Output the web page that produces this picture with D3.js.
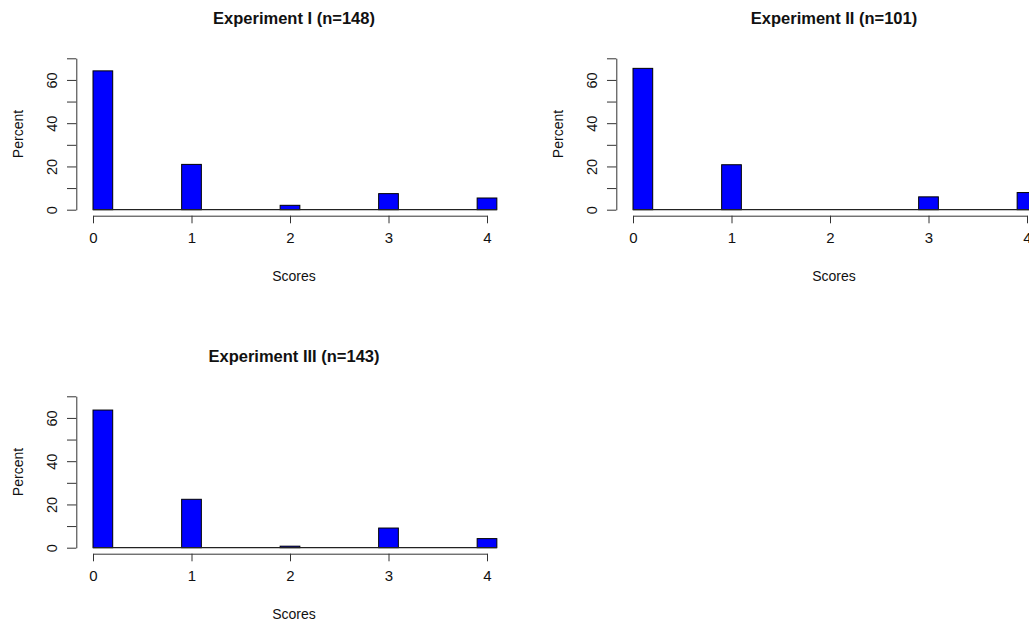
<!DOCTYPE html>
<html>
<head>
<meta charset="utf-8">
<script src="https://cdn.jsdelivr.net/npm/d3@7"></script>
<style>
  html, body { margin: 0; padding: 0; background: #fff; }
  svg { display: block; }
  text { font-family: "Liberation Sans", Arial, sans-serif; fill: #111; }
</style>
</head>
<body>
<script>
// Score categories and percentage of subjects per score in each experiment
const scores = [0, 1, 2, 3, 4];
const titles = ["Experiment I (n=148)", "Experiment II (n=101)", "Experiment III (n=143)"];
const percentI = [64.19, 20.95, 2.03, 7.43, 5.41];
const percentII = [65.35, 20.79, 0, 5.94, 7.92];
const percentIII = [63.64, 22.38, 0.70, 9.09, 4.20];
const yTicks = [0, 10, 20, 30, 40, 50, 60, 70];
const yTickLabels = [0, 20, 40, 60];

const W = 1029, H = 622;
const svg = d3.select("body").append("svg").attr("width", W).attr("height", H);

// panel origins (top-left translation of each small multiple)
const panels = [
  { title: titles[0], values: percentI, dx: 0, dy: 0 },
  { title: titles[1], values: percentII, dx: 540, dy: 0 },
  { title: titles[2], values: percentIII, dx: 0, dy: 338 }
];

const barHalf = 0.1;

panels.forEach(p => {
  const g = svg.append("g").attr("transform", `translate(${p.dx},${p.dy})`);
  const x = d3.scaleLinear().domain([0, 4]).range([93, 487]);
  const y = d3.scaleLinear().domain([0, 70]).range([209.7, 58.3]);
  const axisX = 76.3;
  const centerX = 294;

  // title
  g.append("text")
    .attr("x", centerX).attr("y", 18)
    .attr("text-anchor", "middle").attr("dominant-baseline", "central")
    .style("font-size", "16.5px").style("font-weight", "bold")
    .text(p.title);

  // bars: width 0.2 score units, the first one starts at the axis origin
  const rows = scores.map((s, i) => {
    const left = Math.max(s - barHalf, 0);
    return { left, right: left + 2 * barHalf, v: p.values[i] };
  });
  g.selectAll("rect.bar").data(rows).enter().append("rect")
    .attr("class", "bar")
    .attr("x", d => x(d.left))
    .attr("width", d => x(d.right) - x(d.left))
    .attr("y", d => y(d.v))
    .attr("height", d => y(0) - y(d.v))
    .attr("fill", "#0000ff")
    .attr("stroke", "#000")
    .attr("stroke-width", 1);

  // zero baseline across the bar extent
  g.append("line")
    .attr("x1", x(rows[0].left)).attr("x2", x(rows[rows.length - 1].right))
    .attr("y1", y(0)).attr("y2", y(0))
    .attr("stroke", "#222").attr("stroke-width", 1.2);

  // x axis
  const xAxisY = 215.7;
  const xa = g.append("g").attr("transform", `translate(0,${xAxisY})`)
    .call(d3.axisBottom(x).tickValues(scores).tickSizeInner(7.6).tickSizeOuter(0).tickPadding(9)
      .tickFormat(d3.format("d")));
  xa.select(".domain").attr("stroke", "#333");
  xa.selectAll(".tick line").attr("stroke", "#333");
  xa.selectAll(".tick text").style("font-size", "15px").attr("fill", "#111")
    .attr("font-family", null);

  g.append("text")
    .attr("x", centerX).attr("y", 276)
    .attr("text-anchor", "middle").attr("dominant-baseline", "central")
    .style("font-size", "14px")
    .text("Scores");

  // y axis
  const ya = g.append("g").attr("transform", `translate(${axisX},0)`)
    .call(d3.axisLeft(y).tickValues(yTicks).tickSizeInner(9.3).tickSizeOuter(0)
      .tickFormat(d => yTickLabels.includes(d) ? d : ""));
  ya.select(".domain").attr("stroke", "#333");
  ya.selectAll(".tick line").attr("stroke", "#333");
  ya.selectAll(".tick text")
    .attr("x", 0).attr("dy", null).attr("font-family", null)
    .attr("text-anchor", "middle").attr("dominant-baseline", "central")
    .attr("transform", `translate(${52 - axisX},0) rotate(-90)`)
    .style("font-size", "14.5px").attr("fill", "#111");

  g.append("text")
    .attr("transform", `translate(18.3,${(y(0) + y(70)) / 2}) rotate(-90)`)
    .attr("text-anchor", "middle").attr("dominant-baseline", "central")
    .style("font-size", "14px")
    .text("Percent");
});
</script>
</body>
</html>
